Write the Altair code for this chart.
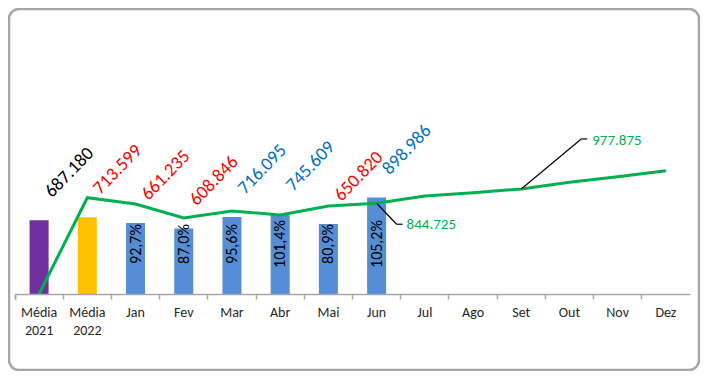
import altair as alt
import pandas as pd

categories = ["Média 2021", "Média 2022", "Jan", "Fev", "Mar", "Abr", "Mai",
              "Jun", "Jul", "Ago", "Set", "Out", "Nov", "Dez"]

bar_categories = ["Média 2021", "Média 2022", "Jan", "Fev", "Mar", "Abr", "Mai", "Jun"]
bar_values = [687.180, 713.599, 661.235, 608.846, 716.095, 745.609, 650.820, 898.986]
bar_labels = ["687.180", "713.599", "661.235", "608.846", "716.095", "745.609", "650.820", "898.986"]
bar_groups = ["Média 2021", "Média 2022", "Mês", "Mês", "Mês", "Mês", "Mês", "Mês"]
label_tones = ["ref", "abaixo", "abaixo", "abaixo", "acima", "acima", "abaixo", "acima"]

pct_categories = ["Jan", "Fev", "Mar", "Abr", "Mai", "Jun"]
pct_labels = ["92,7%", "87,0%", "95,6%", "101,4%", "80,9%", "105,2%"]

line_values = [0, 896, 837, 707, 772, 735, 819, 844.725, 912, 942, 977.875, 1039, 1091, 1147]

callout_categories = ["Jun", "Set"]
callout_values = [844.725, 977.875]
callout_labels = ["844.725", "977.875"]

bars_df = pd.DataFrame({"cat": bar_categories, "valor": bar_values, "rotulo": bar_labels,
                        "grupo": bar_groups, "tom": label_tones})
pct_df = pd.DataFrame({"cat": pct_categories, "pct": pct_labels})
line_df = pd.DataFrame({"cat": categories, "valor": line_values})
call_df = pd.DataFrame({"cat": callout_categories, "valor": callout_values, "rotulo": callout_labels})
frame_df = pd.DataFrame({"k": [0]})

FONT = "Carlito, Calibri, 'Liberation Sans', Arial, sans-serif"

x_scale = alt.Scale(domain=categories, paddingInner=0, paddingOuter=0)
y_scale = alt.Scale(domain=[0, 2550])

x_enc = alt.X("cat:N", scale=x_scale, sort=categories, title=None,
              axis=alt.Axis(labelAngle=0, labelExpr="split(datum.label, ' ')",
                            labelFont=FONT, labelFontSize=14, labelColor="#262626",
                            labelLineHeight=18, labelPadding=6,
                            domainColor="#a6a6a6", domainWidth=1.5,
                            tickColor="#a6a6a6", tickWidth=1.5, tickSize=5,
                            bandPosition=0, tickExtra=True, grid=False, zindex=1))
y_enc = alt.Y("valor:Q", scale=y_scale, axis=None)

frame = alt.Chart(frame_df).mark_rect(
    fill="white", fillOpacity=0, stroke="#a6a6a6", strokeWidth=2.5, cornerRadius=10
).encode(x=alt.value(-6), x2=alt.value(684), y=alt.value(-11), y2=alt.value(350))

bars = alt.Chart(bars_df).mark_bar(size=19).encode(
    x=x_enc, y=y_enc,
    color=alt.Color("grupo:N", legend=None,
                    scale=alt.Scale(domain=["Média 2021", "Média 2022", "Mês"],
                                    range=["#7030a0", "#ffc000", "#558ed5"])))

line = alt.Chart(line_df).mark_line(color="#00b050", strokeWidth=3).encode(
    x=alt.X("cat:N", scale=x_scale, sort=categories), y=alt.Y("valor:Q", scale=y_scale))

value_text = alt.Chart(bars_df).mark_text(
    angle=314, align="left", baseline="alphabetic", font=FONT, fontSize=18.5,
    xOffset=13, yOffset=-22
).encode(
    x=alt.X("cat:N", scale=x_scale, sort=categories), y=alt.Y("valor:Q", scale=y_scale),
    text="rotulo:N",
    color=alt.Color("tom:N", legend=None,
                    scale=alt.Scale(domain=["ref", "abaixo", "acima"],
                                    range=["#000000", "#ff0000", "#0070c0"])))

pct_text = alt.Chart(pct_df).mark_text(
    angle=270, align="center", baseline="middle", font=FONT, fontSize=16, color="#000000"
).encode(x=alt.X("cat:N", scale=x_scale, sort=categories),
         y=alt.Y(datum=465, scale=y_scale), text="pct:N")

base_call = alt.Chart(call_df)
cx = alt.X("cat:N", scale=x_scale, sort=categories, bandPosition=0.5)
cx2 = alt.X2("cat", bandPosition=0.5)
cy = alt.Y("valor:Q", scale=y_scale)
cy2 = alt.Y2("valor")

lead_jun_a = base_call.transform_filter(alt.datum.cat == "Jun").mark_rule(
    color="black", strokeWidth=1.2, x2Offset=20, y2Offset=21).encode(x=cx, x2=cx2, y=cy, y2=cy2)
lead_jun_b = base_call.transform_filter(alt.datum.cat == "Jun").mark_rule(
    color="black", strokeWidth=1.2, xOffset=20, yOffset=21, x2Offset=26, y2Offset=21).encode(
    x=cx, x2=cx2, y=cy, y2=cy2)
lead_set_a = base_call.transform_filter(alt.datum.cat == "Set").mark_rule(
    color="black", strokeWidth=1.2, x2Offset=60, y2Offset=-50).encode(x=cx, x2=cx2, y=cy, y2=cy2)
lead_set_b = base_call.transform_filter(alt.datum.cat == "Set").mark_rule(
    color="black", strokeWidth=1.2, xOffset=60, yOffset=-50, x2Offset=66, y2Offset=-50).encode(
    x=cx, x2=cx2, y=cy, y2=cy2)

call_jun = base_call.transform_filter(alt.datum.cat == "Jun").mark_text(
    align="left", baseline="middle", font=FONT, fontSize=15, color="#00b050",
    xOffset=30, yOffset=21).encode(x=cx, y=cy, text="rotulo:N")
call_set = base_call.transform_filter(alt.datum.cat == "Set").mark_text(
    align="left", baseline="middle", font=FONT, fontSize=15, color="#00b050",
    xOffset=71, yOffset=-49).encode(x=cx, y=cy, text="rotulo:N")

chart = alt.layer(
    frame, bars, line, value_text, pct_text,
    lead_jun_a, lead_jun_b, lead_set_a, lead_set_b, call_jun, call_set
).resolve_scale(color="independent").properties(
    width=675, height=274,
    padding={"left": 7, "top": 12, "right": 10, "bottom": 77},
    autosize=alt.AutoSizeParams(type="none"),
    background="white"
).configure_view(stroke=None)

chart.save("out.html", embed_options={"renderer": "svg", "actions": False})
